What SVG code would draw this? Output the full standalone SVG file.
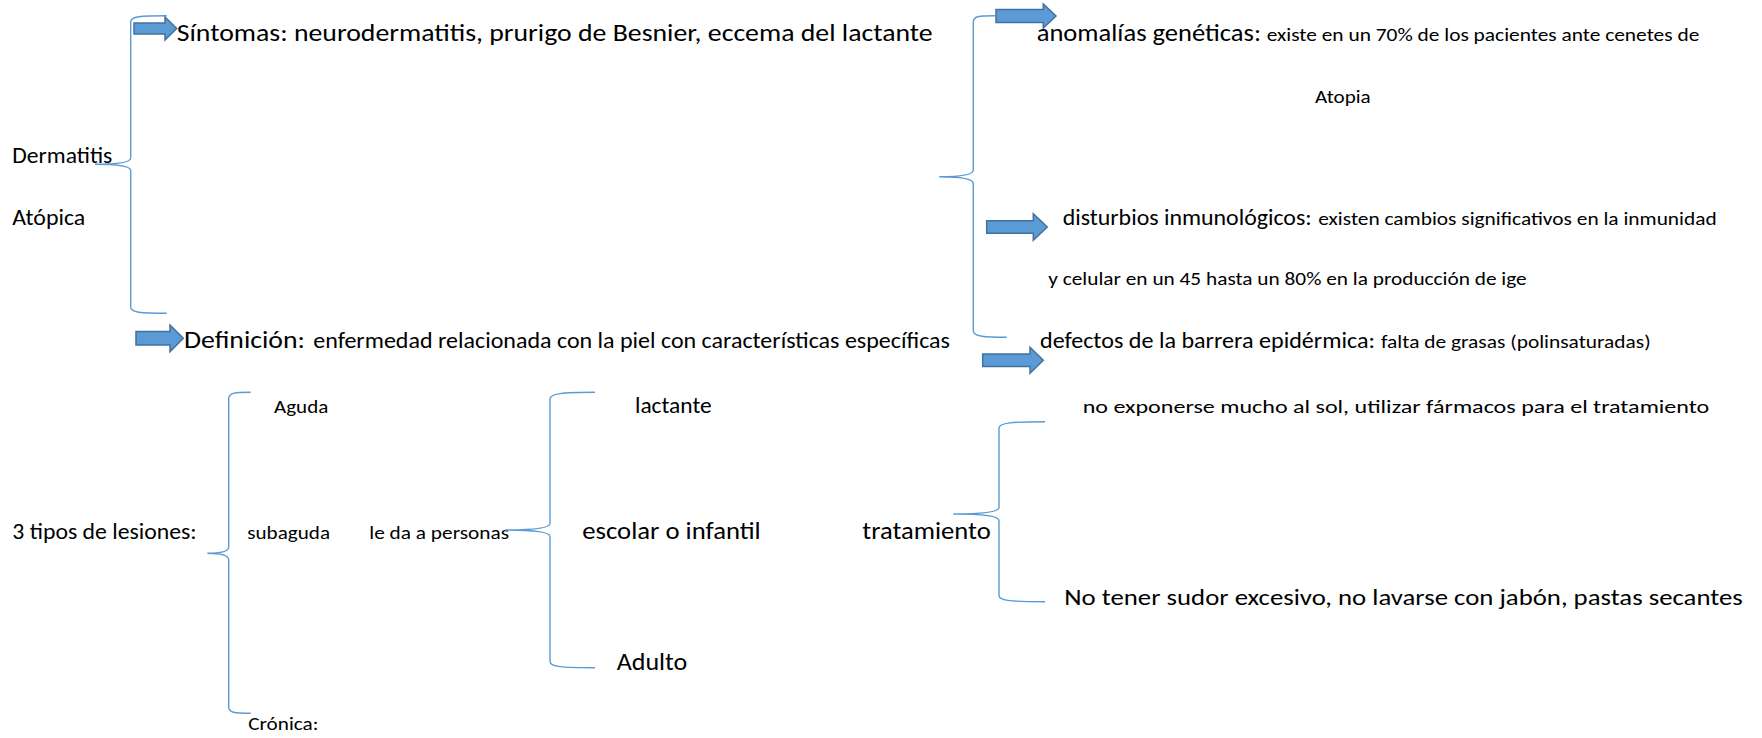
<svg xmlns="http://www.w3.org/2000/svg" width="1762" height="738" viewBox="0 0 1762 738">
<style>
text{font-family:Carlito,Lato,"Liberation Sans",sans-serif;fill:#000;}
.s19{font-size:19px;}
.s21{font-size:21.5px;}
.s24{font-size:24px;}
.brace{fill:none;stroke:#5B9BD5;stroke-width:1.4;}
.arrow{fill:#5B9BD5;stroke:#41719C;stroke-width:1.5;stroke-linejoin:miter;}
</style>
<rect width="1762" height="738" fill="#fff"/>
<g id="nodes">
<g id="n-dermatitis"><text class="s21" x="12.3" y="163" textLength="100" lengthAdjust="spacingAndGlyphs">Dermatitis</text><text class="s21" x="12.3" y="225" textLength="73" lengthAdjust="spacingAndGlyphs">Atópica</text></g>
<g id="n-sintomas"><text class="s24" x="176.7" y="41" textLength="756" lengthAdjust="spacingAndGlyphs">Síntomas: neurodermatitis, prurigo de Besnier, eccema del lactante</text></g>
<g id="n-definicion"><text class="s24" x="184" y="348.3" textLength="121" lengthAdjust="spacingAndGlyphs">Definición:</text><text class="s21" x="313.3" y="348.3" textLength="636.7" lengthAdjust="spacingAndGlyphs">enfermedad relacionada con la piel con características específicas</text></g>
<g id="n-tipos"><text class="s21" x="12.3" y="539" textLength="184.4" lengthAdjust="spacingAndGlyphs">3 tipos de lesiones:</text></g>
<g id="n-aguda"><text class="s19" x="274" y="413.3" textLength="54.3" lengthAdjust="spacingAndGlyphs">Aguda</text></g>
<g id="n-subaguda"><text class="s19" x="247.3" y="539" textLength="82.7" lengthAdjust="spacingAndGlyphs">subaguda</text></g>
<g id="n-cronica"><text class="s19" x="248.3" y="730" textLength="70" lengthAdjust="spacingAndGlyphs">Crónica:</text></g>
<g id="n-personas"><text class="s19" x="369.3" y="539" textLength="139.7" lengthAdjust="spacingAndGlyphs">le da a personas</text></g>
<g id="n-lactante"><text class="s21" x="635" y="413.3" textLength="76.7" lengthAdjust="spacingAndGlyphs">lactante</text></g>
<g id="n-escolar"><text class="s24" x="582.3" y="539" textLength="178.4" lengthAdjust="spacingAndGlyphs">escolar o infantil</text></g>
<g id="n-adulto"><text class="s24" x="616.7" y="670" textLength="70.6" lengthAdjust="spacingAndGlyphs">Adulto</text></g>
<g id="n-tratamiento"><text class="s24" x="862.3" y="539.3" textLength="128.4" lengthAdjust="spacingAndGlyphs">tratamiento</text></g>
<g id="n-anomalias"><text class="s24" x="1036.7" y="41" textLength="224.3" lengthAdjust="spacingAndGlyphs">anomalías genéticas:</text><text class="s19" x="1266.7" y="41" textLength="432.6" lengthAdjust="spacingAndGlyphs">existe en un 70% de los pacientes ante cenetes de</text><text class="s19" x="1315" y="103.3" textLength="55.7" lengthAdjust="spacingAndGlyphs">Atopia</text></g>
<g id="n-disturbios"><text class="s21" x="1062.7" y="225" textLength="249" lengthAdjust="spacingAndGlyphs">disturbios inmunológicos:</text><text class="s19" x="1318.3" y="225" textLength="398.4" lengthAdjust="spacingAndGlyphs">existen cambios significativos en la inmunidad</text><text class="s19" x="1048.3" y="285" textLength="478.4" lengthAdjust="spacingAndGlyphs">y celular en un 45 hasta un 80% en la producción de ige</text></g>
<g id="n-defectos"><text class="s21" x="1040" y="348.3" textLength="335" lengthAdjust="spacingAndGlyphs">defectos de la barrera epidérmica:</text><text class="s19" x="1381" y="348.3" textLength="269.7" lengthAdjust="spacingAndGlyphs">falta de grasas (polinsaturadas)</text></g>
<g id="n-noexponerse"><text class="s19" x="1082.7" y="413.3" textLength="626.6" lengthAdjust="spacingAndGlyphs">no exponerse mucho al sol, utilizar fármacos para el tratamiento</text></g>
<g id="n-nosudor"><text class="s21" x="1064.3" y="605" textLength="678.4" lengthAdjust="spacingAndGlyphs">No tener sudor excesivo, no lavarse con jabón, pastas secantes</text></g>
</g>
<g id="connectors">
<path class="brace" d="M166.7,15.7 C140,15.7 130.7,16.5 130.7,22 L130.7,158 C130.7,162.5 118,164.3 95,164.3 C118,164.3 130.7,166 130.7,170.5 L130.7,307 C130.7,312.5 140,313.3 166.7,313.3"/>
<path class="brace" d="M995,15.7 C978,15.7 973.3,16.5 973.3,22 L973.3,170 C973.3,175 960,176.7 939.3,176.7 C960,176.7 973.3,178.5 973.3,183.5 L973.3,331 C973.3,336.5 985,337.3 1006.7,337.3"/>
<path class="brace" d="M250.7,392.3 C234,392.3 228.7,393 228.7,398.5 L228.7,547 C228.7,552 220,553.3 207.3,553.3 C220,553.3 228.7,555 228.7,560 L228.7,707 C228.7,712.5 234,713.3 250.7,713.3"/>
<path class="brace" d="M595,392.3 C562,392.3 550,393.5 550,399 L550,523.5 C550,528.5 530,530 505,530 C530,530 550,531.5 550,536.5 L550,661.5 C550,667 562,667.7 595,667.7"/>
<path class="brace" d="M1045,421.7 C1012,421.7 999,422.8 999,428 L999,507.5 C999,512.5 980,514 953.3,514 C980,514 999,515.5 999,520.5 L999,595.5 C999,601 1012,601.7 1045,601.7"/>
<path class="arrow" d="M134,23 L165,23 L165,17 L176.7,28.5 L165,40 L165,34 L134,34 Z"/>
<path class="arrow" d="M136,331.6 L170,331.6 L170,325 L183.3,338.3 L170,351.6 L170,345 L136,345 Z"/>
<path class="arrow" d="M996,9.5 L1043.3,9.5 L1043.3,4 L1056,16 L1043.3,28 L1043.3,22.5 L996,22.5 Z"/>
<path class="arrow" d="M986.7,220.8 L1033.3,220.8 L1033.3,213.7 L1047.3,227 L1033.3,240.3 L1033.3,233.2 L986.7,233.2 Z"/>
<path class="arrow" d="M982.7,354 L1030,354 L1030,347.3 L1043.3,360.3 L1030,373.3 L1030,366.6 L982.7,366.6 Z"/>
</g>
</svg>
